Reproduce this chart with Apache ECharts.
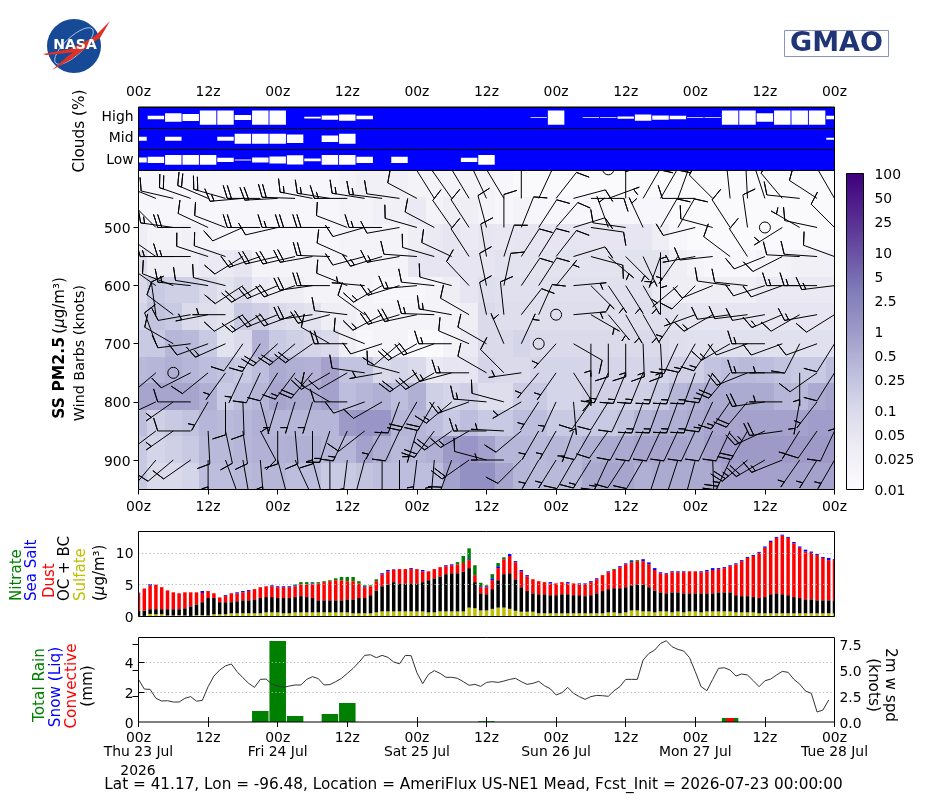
<!DOCTYPE html>
<html>
<head>
<meta charset="utf-8">
<style>html,body{margin:0;padding:0;background:#fff}#chart{width:925px;height:804px}</style>
<script src="https://cdn.jsdelivr.net/npm/echarts@6/dist/echarts.min.js"></script>
</head>
<body>
<div id="chart"></div>
<script>
// Forecast hours are counted from the initialisation time; every column is 3 hours.
const hourTicks = ['00z', '12z'];
const dayLabels = ['Thu 23 Jul', 'Fri 24 Jul', 'Sat 25 Jul', 'Sun 26 Jul', 'Mon 27 Jul', 'Tue 28 Jul'];
const cloudBands = ['Low', 'Mid', 'High'];

// Cloud fraction (%) per 3-hour column
const cloudHigh = [0,25,60,50,100,100,35,100,100,0,12,30,45,25,0,0,0,0,0,0,0,0,0,5,100,0,5,5,15,45,30,25,5,5,100,100,60,100,100,100,25];
const cloudMid  = [30,0,30,0,0,30,70,70,70,60,0,45,70,0,0,0,0,0,0,0,0,0,0,0,0,0,0,0,0,0,0,0,0,0,0,0,0,0,0,0,15];
const cloudLow  = [35,45,70,70,70,30,7,35,50,65,20,70,70,45,0,45,0,0,0,30,70,0,0,0,0,0,0,0,0,0,0,0,0,0,0,0,0,0,0,0,0];

// Pressure levels (hPa) shared by the concentration rows and the wind barbs
const levels = [400,450,500,550,600,650,700,750,800,850,900,950];

// Sea-salt PM2.5 (ug/m3) by level
const pm400 = [.015,.015,.015,.015,.015,.015,.015,.015,.015,.015,.015,.015,.02,.025,.025,.025,.02,.02,.02,.02,.02,.015,.012,.012,.012,.012,.012,.012,.012,.012,.012,.012,.012,.012,.012,.012,.012,.012,.012,.012,.012];
const pm450 = [.015,.015,.015,.015,.015,.015,.015,.015,.015,.015,.015,.015,.02,.02,.025,.025,.04,.02,.03,.03,.02,.015,.02,.015,.015,.015,.015,.015,.015,.015,.015,.012,.012,.012,.012,.012,.012,.012,.012,.012,.012];
const pm500 = [.03,.02,.02,.025,.02,.015,.015,.015,.015,.015,.015,.015,.02,.02,.02,.02,.03,.04,.05,.04,.05,.045,.05,.05,.05,.05,.05,.05,.05,.05,.03,.015,.012,.012,.012,.012,.012,.012,.012,.012,.012];
const pm550 = [.08,.03,.03,.03,.04,.04,.05,.02,.02,.02,.02,.02,.02,.02,.02,.02,.05,.05,.05,.05,.05,.06,.06,.06,.06,.06,.06,.06,.06,.06,.06,.03,.02,.015,.015,.015,.02,.02,.025,.025,.025];
const pm600 = [.1,.2,.15,.15,.1,.06,.1,.04,.03,.03,.02,.02,.02,.02,.015,.015,.015,.02,.03,.05,.08,.07,.07,.07,.07,.07,.07,.07,.07,.07,.04,.03,.03,.03,.03,.03,.04,.04,.04,.04,.04];
const pm650 = [.12,.25,.2,.1,.08,.06,.2,.15,.1,.08,.06,.03,.03,.02,.02,.02,.02,.02,.02,.03,.1,.08,.08,.08,.08,.08,.08,.08,.08,.08,.08,.06,.05,.05,.05,.05,.05,.05,.05,.05,.05];
const pm700 = [.2,.2,.4,.35,.2,.06,.1,.45,.2,.15,.12,.1,.03,.015,.02,.02,.012,.012,.02,.04,.1,.1,.12,.1,.1,.1,.1,.1,.1,.1,.1,.08,.07,.07,.07,.07,.07,.07,.07,.07,.07];
const pm750 = [.35,.4,.5,.4,.3,.25,.2,.3,.6,.5,.45,.8,.25,.25,.1,.12,.1,.04,.05,.05,.12,.1,.1,.12,.12,.12,.12,.12,.12,.12,.12,.15,.15,.25,.3,.35,.3,.25,.2,.2,.3];
const pm800 = [.7,.7,.7,.7,.5,.2,.3,.4,.7,.6,.6,.8,.3,.4,.5,.3,.5,.15,.12,.15,.08,.08,.18,.2,.12,.12,.15,.15,.15,.15,.2,.4,.5,.6,.6,.6,.6,.4,.35,.6,.7];
const pm850 = [.3,.15,.2,.25,.4,.35,.4,.5,.4,.4,.4,.4,1,1.2,1.2,.4,.4,.3,.2,.3,.2,.2,.3,.3,.2,.2,.2,.2,.25,.4,.5,.5,.6,.7,.7,.8,.8,.8,.8,.9,.9];
const pm900 = [.2,.12,.15,.2,.35,.35,.4,.45,.45,.5,.5,.4,.4,.8,.5,.35,.4,.5,1,1.2,.8,.4,.4,.35,.4,.35,.5,.6,.6,.7,.7,.7,.6,.8,.9,1,1,1,1,1,1];
const pm950 = [.2,.1,.1,.12,.3,.3,.35,.4,.4,.3,.3,.2,.2,.25,.3,.3,.3,.3,.8,1.5,1.5,.7,.4,.35,.35,.35,.6,.7,.7,.5,.6,.6,.6,.6,.8,.8,.8,.8,.8,.8,.8];
const pmRows = [pm400,pm450,pm500,pm550,pm600,pm650,pm700,pm750,pm800,pm850,pm900,pm950];

// Wind direction (degrees the wind blows from) by level
const dir400 = [330,330,330,330,330,330,268,330,330,330,330,272,330,330,330,330,330,330,330,330,330,330,330,330,330,330,330,0,330,330,330,330,330,330,330,330,330,330,330,330,330];
const dir450 = [290,292,283,289,293,286,265,270,267,272,281,279,270,279,277,278,298,328,325,329,335,329,0,25,38,75,90,70,0,30,30,20,270,315,354,357,342,320,276,303,330];
const dir500 = [300,315,278,270,295,291,246,270,257,270,270,270,291,254,270,260,286,298,325,327,345,0,22,33,41,73,98,340,278,335,30,30,256,285,327,352,0,238,300,282,315];
const dir550 = [300,305,270,270,288,289,238,251,257,257,260,272,294,255,253,260,274,286,295,327,350,18,33,32,38,73,105,130,135,155,200,215,260,264,307,327,248,243,273,274,290];
const dir600 = [300,305,291,276,279,284,237,240,247,250,262,270,292,275,240,253,265,276,285,317,348,12,34,33,39,85,135,146,148,150,0,230,225,248,278,276,252,250,270,270,263];
const dir650 = [330,352,307,260,259,270,240,238,248,250,262,255,277,306,242,253,258,272,280,300,348,354,38,24,0,85,120,140,150,150,0,215,250,240,262,263,260,247,240,260,238];
const dir700 = [230,340,300,263,250,246,215,213,228,230,235,300,270,292,252,230,240,250,270,293,300,337,25,0,222,120,180,180,180,178,177,205,210,215,240,250,270,250,207,250,212];
const dir750 = [230,230,0,243,231,216,205,205,212,217,220,240,240,278,260,285,235,240,255,270,300,315,262,220,215,147,180,205,202,202,200,200,200,205,220,248,270,270,180,235,212];
const dir800 = [230,245,235,270,210,180,178,165,197,197,197,300,270,250,240,200,210,210,230,250,275,285,240,213,205,175,215,212,205,200,200,200,200,205,215,220,262,270,190,218,180];
const dir850 = [230,233,235,270,177,168,172,152,180,175,180,198,205,232,210,205,197,217,235,240,270,273,230,210,210,200,210,215,208,205,205,205,205,205,205,210,245,262,212,215,205];
const dir900 = [225,220,230,235,180,160,170,175,165,155,165,180,187,195,180,180,187,185,200,235,285,270,225,210,212,210,212,205,213,210,198,198,195,178,205,230,240,248,215,212,210];
const dir950 = [210,210,210,210,200,190,190,190,190,190,190,190,190,195,195,195,195,195,200,210,210,210,210,210,210,210,210,210,210,205,200,200,200,200,205,210,215,215,210,210,210];
const windDirs = [dir400,dir450,dir500,dir550,dir600,dir650,dir700,dir750,dir800,dir850,dir900,dir950];

// Wind speed (knots) by level; 0 draws the calm circle
const spd400 = [10,10,10,10,10,10,10,10,10,10,10,10,10,10,10,10,10,10,10,10,10,10,10,10,10,10,10,0,10,10,10,10,10,10,10,10,10,10,10,10,10];
const spd450 = [15,15,10,20,20,20,15,20,20,20,15,15,15,15,15,10,10,10,10,10,10,10,10,10,10,10,10,5,5,10,10,10,10,10,10,10,10,10,10,10,10];
const spd500 = [10,10,15,20,10,10,10,20,10,15,20,20,10,10,15,10,10,10,10,10,10,10,10,10,10,10,10,5,10,5,10,10,10,10,10,10,0,5,5,10,10];
const spd550 = [10,10,15,15,10,10,10,15,20,20,20,20,10,10,15,15,10,10,10,10,10,10,10,10,10,10,10,5,5,5,5,5,5,10,10,10,10,10,10,10,10];
const spd600 = [10,10,10,15,10,10,10,20,20,20,20,20,10,5,15,15,15,10,10,10,10,10,10,10,5,5,5,5,5,5,5,5,10,10,10,10,10,10,15,15,15];
const spd650 = [10,10,10,10,5,5,10,15,20,20,20,20,10,10,15,20,20,15,15,10,10,10,10,10,0,5,5,5,5,5,5,5,5,15,10,10,10,15,10,15,10];
const spd700 = [10,10,10,10,10,15,10,15,20,20,20,10,20,10,10,10,20,20,15,10,10,5,5,0,5,10,5,10,15,15,15,15,15,15,15,10,15,10,10,10,10];
const spd750 = [10,10,0,10,10,5,5,10,10,15,20,20,10,10,5,10,20,20,15,15,10,10,5,5,5,10,5,15,15,15,15,15,15,15,20,20,15,5,5,10,10];
const spd800 = [10,10,5,10,5,10,10,5,5,5,5,10,10,10,10,10,20,20,15,15,15,10,5,5,5,5,10,10,10,15,15,15,15,15,15,20,20,5,5,5,5];
const spd850 = [10,10,5,10,10,10,10,10,10,10,15,15,15,10,5,10,5,20,20,15,15,5,10,5,5,5,10,10,10,10,10,10,10,10,10,20,25,20,5,10,10];
const spd900 = [10,10,10,10,5,10,10,5,10,10,10,10,15,10,10,10,5,5,20,20,10,5,10,5,5,10,15,15,10,10,10,10,10,10,25,25,20,15,5,5,5];
const spd950 = [10,10,10,10,10,10,10,10,10,10,10,10,10,10,10,10,10,10,20,20,10,10,10,10,10,10,10,10,10,10,10,10,10,10,20,20,20,10,10,10,10];
const windSpeeds = [spd400,spd450,spd500,spd550,spd600,spd650,spd700,spd750,spd800,spd850,spd900,spd950];

// Hourly aerosol column: sulfate, then running totals as the species stack up
const sulfate = [
  .1,.1,.4,.35,.35,.15,.15,.2,.15,.1, .2,.2,.15,.35,.35,.35,.5,.5,.5,.5,
  .5,.5,.65,.65,.65,.5,.5,.65,.65,.65, .65,.65,.65,.65,.65,.65,.65,.5,.5,.5,
  .5,.65,.8,.8,.8,.8,.8,.8,.8,.8, .65,.65,.8,.8,.8,.8,.8,1.4,1.3,.95,
  .95,1.2,1.4,1.4,1.2,.9,.75,.75,.75,.5, .5,.5,.5,.5,.5,.5,.5,.5,.5,.5,
  .5,.65,.65,.5,.65,.95,.95,.8,.8,.65, .8,.8,.65,.8,.65,.8,.8,.65,.8,.8,
  .8,.8,.8,.65,.65,.65,.65,.5,.5,.5, .5,.5,.5,.5,.5,.5,.5,.5,.5,.5,.5];
const carbonTop = [
  .95,.95,1.15,1.15,1.15,1.15,1.15,1.15,1.3,1.6, 1.9,2.25,2.9,2.9,2.25,2.25,2.25,2.4,2.55,2.55,
  2.7,2.9,3.05,3.05,2.9,2.9,2.9,3.05,3.2,3.05, 2.9,2.55,2.55,2.55,2.55,2.55,2.7,2.7,2.9,2.9,
  3.35,4.1,4.75,5.05,5.4,5.2,5.2,5.2,5.2,5.4, 5.7,6,6.3,6.65,6.8,6.8,7,7.6,5.4,3.65,
  3.5,4.3,5.7,6.65,6.8,5.85,4.6,4,3.65,3.5, 3.5,3.35,3.35,3.5,3.5,3.35,3.35,3.2,3.35,3.65,
  4,4.3,4.45,4.45,4.6,4.9,5.05,5.05,4.6,4.1, 3.8,3.65,3.8,3.8,3.65,3.65,3.65,3.65,3.65,3.65,
  3.8,3.8,3.8,3.35,3.2,3.2,3.05,2.9,3.05,3.5, 3.65,3.5,3.35,3.05,2.9,2.7,2.7,2.55,2.55,2.55,2.55];
const dustTop = [
  3.6,4.4,4.9,5,4.6,4.1,3.8,3.65,3.8,3.8, 3.8,3.7,4,3.65,3,3.2,3.65,3.65,3.8,4,
  4.3,4.6,4.75,4.75,4.6,4.6,4.6,4.75,5.05,5.05, 5.05,5.2,5.4,5.55,5.7,5.7,5.55,5.55,5.2,4.6,
  4.75,5.55,6.6,7.1,7.3,7.45,7.45,7.45,7.45,7.1, 7.1,7.45,7.75,7.9,8.05,8.2,8.4,8.85,6.5,4.6,
  4.6,5.7,7.6,9,9.5,8.5,7.1,6.3,5.85,5.55, 5.4,5.2,5.2,5.4,5.2,5.2,5.05,5.05,5.4,5.85,
  6.5,6.95,7.3,7.75,8.2,8.5,8.7,8.7,8.2,7.3, 6.8,6.65,6.95,6.95,6.95,7.1,7.1,6.95,7.1,7.3,
  7.45,7.6,7.9,8.2,8.7,9.2,9.5,10,10.8,11.7, 12.35,12.7,12.35,11.5,10.8,10.2,10,9.65,9.2,8.85,8.85];
const saltTop = [
  3.75,4.4,5.1,5,4.6,4.1,3.8,3.65,3.8,3.8, 3.8,4,4,3.65,3,3.35,3.65,3.8,4,4.15,
  4.3,4.6,4.75,4.9,4.75,4.75,4.75,4.9,5.05,5.05, 5.2,5.2,5.4,5.55,5.7,5.7,5.55,5.55,5.2,4.75,
  4.75,5.55,6.8,7.3,7.4,7.45,7.45,7.6,7.45,7.3, 7.1,7.45,7.75,8.05,8.2,8.2,8.4,9,6.5,4.75,
  4.75,6,7.9,9,9.8,8.7,7.3,6.5,5.85,5.55, 5.4,5.4,5.2,5.4,5.4,5.2,5.2,5.2,5.55,6,
  6.5,7.1,7.3,7.9,8.35,8.7,8.7,9,8.5,7.6, 6.95,6.8,7.1,7.1,7.1,7.1,7.1,7.1,7.3,7.6,
  7.6,7.75,8.05,8.35,8.85,9.35,9.65,10.15,11,11.9, 12.5,12.85,12.5,11.7,11,10.5,10.2,9.8,9.35,9.2,9];
const nitrateTop = [
  3.75,4.4,5.1,5,4.6,4.1,3.8,3.65,3.8,3.8, 3.8,4,4,3.65,3,3.35,3.65,3.8,4,4.15,
  4.3,4.6,4.75,4.9,4.75,4.75,4.75,5.05,5.4,5.4, 5.4,5.4,5.55,5.7,6,6.2,6.2,6.2,5.55,4.9,
  4.9,5.85,6.8,7.3,7.4,7.45,7.45,7.6,7.45,7.3, 7.1,7.45,7.75,8.05,8.2,8.55,9.5,10.7,8.05,5.3,
  4.9,6.65,8.4,9.3,9.8,8.7,7.3,6.5,5.85,5.55, 5.4,5.4,5.2,5.4,5.4,5.2,5.2,5.2,5.55,6,
  6.5,7.1,7.45,7.9,8.35,8.85,8.85,9,8.5,7.6, 6.95,6.8,7.1,7.1,7.1,7.1,7.1,7.1,7.3,7.6,
  7.6,7.75,8.05,8.35,8.85,9.35,9.65,10.15,11,11.9, 12.5,12.85,12.5,11.7,11,10.5,10.2,9.8,9.35,9.2,9];

// Precipitation (mm per 3 hours) at the forecast hours where any fell
const rainHours = [21,24,27,33,36,60,102];
const rainTotal = [.73,5.4,.4,.53,1.27,.05,.27];
const rainConvective = [0,0,0,0,0,0,.27];

// Hourly 2 m wind speed (knots)
const wind2m = [
  4.1,3.17,3.14,2.28,2.02,2.05,1.92,1.92,2.28,2.44, 2,2.08,3.4,4.42,5,5.4,5.58,4.84,4.26,3.72,
  3.33,4.1,4.13,3.65,3.46,3.33,3.46,3.56,3.56,4.1, 4.36,4.17,3.56,3.6,3.88,4.2,4.68,5.16,5.74,6.41,
  6.47,6.19,6.41,6.22,5.77,5.6,6.41,6.38,4.74,3.69, 4.58,4.94,4.68,4.3,4.3,4.2,3.88,3.53,3.62,3.43,
  3.81,3.88,3.81,3.94,4.1,4.2,3.88,3.62,3.72,3.91, 3.49,3.2,2.6,2.82,3.33,2.76,2.44,2.18,2.44,2.56,
  2.53,2.47,3.01,3.4,4.1,4.1,4.1,5.96,6.6,6.92, 7.56,7.82,7.24,6.99,6.83,6.19,4.84,3.4,3.01,4.1,
  5.16,5.22,5,4.42,4.62,4.52,3.97,3.4,3.97,4.13, 4.52,4.87,4.78,4.1,3.65,2.98,2.76,.96,1.15,2.12];

const colorTicks = [0.01,0.025,0.05,0.1,0.25,0.5,1,2.5,5,10,25,50,100];
const purples = ['#fcfbfd','#efedf5','#dadaeb','#bcbddc','#9e9ac8','#807dba','#6a51a3','#54278f','#3f007d'];

const FONT = '"DejaVu Sans"';
const FS = 13.9;
const FS_LABEL = 15.28;
const X0 = 138.5, PANEL_W = 696;
const HOURS = 120;

function logFraction(v) { return (Math.log10(v) + 2) / 4; }
function pmColor(v) { return echarts.color.lerp(Math.max(0, Math.min(1, logFraction(v))), purples); }

function hourLabel(v) { return hourTicks[(v % 24) / 12]; }
function hourLabelWithDay(v) { return v % 24 === 0 ? hourTicks[0] + '\n' + dayLabels[v / 24] : hourTicks[1]; }

function timeAxis(gridIndex, extra) {
  return Object.assign({
    type: 'value', gridIndex, min: 0, max: HOURS, interval: 12,
    axisLine: { show: false }, axisTick: { show: false }, splitLine: { show: false },
    axisLabel: { show: false }
  }, extra);
}

// Flatten per-column arrays into [hour, row, value] records
const cloudData = [];
[cloudLow, cloudMid, cloudHigh].forEach((row, b) => row.forEach((v, k) => { if (v > 0) cloudData.push([k * 3, b, v]); }));
const pmData = [];
pmRows.forEach((row, r) => row.forEach((v, k) => pmData.push([k * 3, r, v])));
const barbData = [];
windDirs.forEach((row, r) => row.forEach((d, k) => barbData.push([k * 3, levels[r], d, windSpeeds[r][k]])));

function renderCloud(params, api) {
  const t = api.value(0), band = api.value(1), pct = api.value(2);
  const c = api.coord([t, band]);
  const h = api.size([0, 1])[1] * (2 / 3) * pct / 100;
  const a = api.coord([t - 1.42, band]), b = api.coord([t + 1.42, band]);
  return { type: 'rect', shape: { x: a[0], y: c[1] - h / 2, width: b[0] - a[0], height: h }, style: { fill: '#fff' } };
}

function renderCell(params, api) {
  const t = api.value(0), r = api.value(1);
  const c = api.coord([t - 1.5, r]), e = api.coord([t + 1.5, r]);
  const h = api.size([0, 1])[1];
  const x = Math.round(c[0]), xe = Math.round(e[0]);
  const y = Math.round(c[1] - h / 2), ye = Math.round(c[1] + h / 2);
  return { type: 'rect', shape: { x, y, width: xe - x, height: ye - y }, style: { fill: pmColor(api.value(2)) } };
}

// Wind barb: shaft runs from the grid point toward where the wind comes from,
// with full (10 kt) and half (5 kt) feathers at the far end.
const BARB_L = 33, BARB_H = 13, BARB_W = 8.2, BARB_S = 4.1;
function renderBarb(params, api) {
  const p = api.coord([api.value(0), api.value(1)]);
  const az = api.value(2) * Math.PI / 180, spd = api.value(3);
  const style = { fill: 'none', stroke: '#000', lineWidth: 1 };
  if (spd < 2.5) return { type: 'circle', shape: { cx: p[0], cy: p[1], r: 5.5 }, style };
  const dx = Math.sin(az), dy = -Math.cos(az), nx = Math.cos(az), ny = Math.sin(az);
  const along = (o, s) => [p[0] + dx * o + nx * s, p[1] + dy * o + ny * s];
  const pts = [p];
  let off = BARB_L;
  const full = Math.floor(spd / 10), half = (spd % 10) >= 5;
  for (let i = 0; i < full; i++) {
    pts.push(along(off, 0), along(off + BARB_W / 2, BARB_H), along(off, 0));
    off -= BARB_S;
  }
  if (half) {
    if (full === 0) { pts.push(along(off, 0)); off -= 1.5 * BARB_S; }
    pts.push(along(off, 0), along(off + BARB_W / 4, BARB_H / 2), along(off, 0));
  }
  return { type: 'polyline', shape: { points: pts }, style };
}

function renderColorbar(params, api) {
  const a = api.coord([0, api.value(0)]), b = api.coord([1, api.value(1)]);
  return {
    type: 'rect',
    shape: { x: a[0], y: b[1], width: b[0] - a[0], height: a[1] - b[1] },
    style: { fill: new echarts.graphic.LinearGradient(0, 1, 0, 0, purples.map((color, i) => ({ offset: i / (purples.length - 1), color }))) }
  };
}

function renderRain(widthHours, color) {
  return function (params, api) {
    const t = api.value(0), v = api.value(1);
    if (!(v > 0)) return null;
    const a = api.coord([t - widthHours / 2, v]), b = api.coord([t + widthHours / 2, 0]);
    return { type: 'rect', shape: { x: a[0], y: a[1], width: b[0] - a[0], height: b[1] - a[1] }, style: { fill: color } };
  };
}

function stackBars(name, values, color) {
  return {
    type: 'bar', name, xAxisIndex: 3, yAxisIndex: 4, stack: 'aerosol', barWidth: 3.5, clip: true,
    itemStyle: { color }, data: values, z: 2
  };
}

function vText(x, y, text, fill, opts) {
  return Object.assign({
    type: 'text', x, y, rotation: Math.PI / 2, z: 50,
    style: { text, fill, font: FS_LABEL + 'px ' + FONT, align: 'center', verticalAlign: 'middle' }
  }, opts || {});
}
function vLabel(x, y, text, fill, align, size) {
  const t = vText(x, y, text, fill);
  t.style.align = align || 'center';
  if (size) t.style.font = size + 'px ' + FONT;
  return t;
}
function frame(x, y, w, h) {
  return { type: 'rect', z: 60, silent: true, shape: { x, y, width: w, height: h }, style: { fill: 'none', stroke: '#000', lineWidth: 1 } };
}
// The end bars straddle the axis limits, so the panel margins are masked outside the frame
function margin(x, y, w, h) {
  return { type: 'rect', z: 55, silent: true, shape: { x, y, width: w, height: h }, style: { fill: '#fff' } };
}

const unitRich = {
  i: { fontStyle: 'italic', fontFamily: FONT, fontSize: 15, fill: '#000' },
  t: { fontFamily: FONT, fontSize: 15, fill: '#000' },
  b: { fontWeight: 'bold', fontFamily: FONT, fontSize: 15.6, fill: '#000' }
};

const chart = echarts.init(document.getElementById('chart'), null, { renderer: 'canvas' });
const baseLabel = { fontFamily: FONT, fontSize: FS, color: '#000' };
// Vertical-axis labels sit a touch below their tick, set through a padded rich token
const yLabelRich = { a: { fontFamily: FONT, fontSize: FS, color: '#000', padding: [4, 0, 0, 0] } };
function yLabelFmt(fn) { return v => '{a|' + (fn ? fn(v) : v) + '}'; }
const blackLine = { color: '#000', width: 1 };
const dotted = { show: true, lineStyle: { color: '#b5b5b5', type: [1.2, 2.5], width: 1 } };
const hourIndex = sulfate.map((v, t) => t);

chart.setOption({
  animation: false,
  backgroundColor: '#fff',
  grid: [
    { left: X0, top: 107, width: PANEL_W, height: 63.5, show: true, backgroundColor: '#0000ff', borderWidth: 0 },
    { left: X0, top: 170.5, width: PANEL_W, height: 319, show: false },
    { left: 846.5, top: 173.5, width: 17, height: 316, show: false },
    { left: X0, top: 531.5, width: PANEL_W, height: 85, show: false },
    { left: X0, top: 637.5, width: PANEL_W, height: 84.5, show: false }
  ],
  xAxis: [
    timeAxis(0, { position: 'top', axisLabel: Object.assign({ show: true, margin: 8, formatter: hourLabel }, baseLabel) }),
    timeAxis(1, { position: 'bottom', axisTick: { show: true, length: 5, lineStyle: blackLine }, axisLabel: Object.assign({ show: true, margin: 11, formatter: hourLabel }, baseLabel) }),
    { type: 'value', gridIndex: 2, min: 0, max: 1, show: false },
    { type: 'category', gridIndex: 3, data: hourIndex, boundaryGap: false, axisLine: { show: false }, axisTick: { show: false }, axisLabel: { show: false }, splitLine: { show: false } },
    timeAxis(4, { axisTick: { show: true, inside: true, length: 5, lineStyle: blackLine },
      axisLabel: Object.assign({ show: true, margin: 9, lineHeight: 14, formatter: hourLabelWithDay }, baseLabel) }),
    timeAxis(4, { position: 'top', axisTick: { show: true, inside: true, length: 5, lineStyle: blackLine } })
  ],
  yAxis: [
    { type: 'category', gridIndex: 0, data: cloudBands, axisLine: { show: false }, axisTick: { show: false },
      splitLine: { show: true, interval: 0, lineStyle: blackLine },
      axisLabel: Object.assign({ margin: 5 }, baseLabel) },
    { type: 'value', gridIndex: 1, min: 402, max: 950.7, inverse: true, splitLine: { show: false }, axisLine: { show: false },
      axisTick: { show: true, length: 5, lineStyle: blackLine, customValues: [500,600,700,800,900] },
      axisLabel: { margin: 8, customValues: [500,600,700,800,900], formatter: yLabelFmt(), rich: yLabelRich } },
    { type: 'category', gridIndex: 1, data: levels, inverse: true, show: false },
    { type: 'log', gridIndex: 2, position: 'right', logBase: 10, min: 0.01, max: 100, splitLine: { show: false },
      axisLine: { show: false }, axisTick: { show: true, length: 3.5, lineStyle: blackLine, customValues: colorTicks },
      axisLabel: { margin: 11, customValues: colorTicks, formatter: yLabelFmt(v => String(+(+v).toPrecision(3))), rich: yLabelRich } },
    { type: 'value', gridIndex: 3, min: 0, max: 13.35, interval: 5, z: 5, axisLine: { show: false }, axisTick: { show: false },
      splitLine: dotted, axisLabel: { margin: 5, customValues: [0,5,10], formatter: yLabelFmt(), rich: yLabelRich } },
    { type: 'value', gridIndex: 4, min: 0, max: 5.63, interval: 2, z: 5, axisLine: { show: false },
      axisTick: { show: true, inside: true, length: 6, lineStyle: blackLine, customValues: [2,4] },
      splitLine: dotted, axisLabel: { margin: 5, customValues: [0,2,4], formatter: yLabelFmt(), rich: yLabelRich } },
    { type: 'value', gridIndex: 4, position: 'right', min: 0, max: 8.13, interval: 2.5, axisLine: { show: false }, splitLine: { show: false },
      axisTick: { show: true, inside: true, length: 6, lineStyle: blackLine, customValues: [2.5,5,7.5] },
      axisLabel: { margin: 5, customValues: [0,2.5,5,7.5], formatter: yLabelFmt(v => (+v).toFixed(1)), rich: yLabelRich } }
  ],
  series: [
    { type: 'custom', xAxisIndex: 0, yAxisIndex: 0, data: cloudData, renderItem: renderCloud, clip: true, z: 3, silent: true },
    { type: 'custom', xAxisIndex: 1, yAxisIndex: 2, data: pmData, renderItem: renderCell, clip: true, z: 2, silent: true },
    { type: 'custom', xAxisIndex: 1, yAxisIndex: 1, data: barbData, renderItem: renderBarb, clip: true, z: 4, silent: true },
    { type: 'custom', xAxisIndex: 2, yAxisIndex: 3, data: [[colorTicks[0], colorTicks[colorTicks.length - 1]]],
      encode: { y: [0, 1] }, renderItem: renderColorbar, silent: true },
    stackBars('Sulfate', sulfate, '#bfbf00'),
    stackBars('OC + BC', carbonTop.map((v, i) => v - sulfate[i]), '#000000'),
    stackBars('Dust', dustTop.map((v, i) => v - carbonTop[i]), '#ff0000'),
    stackBars('Sea Salt', saltTop.map((v, i) => v - dustTop[i]), '#0000ff'),
    stackBars('Nitrate', nitrateTop.map((v, i) => v - saltTop[i]), '#008000'),
    { type: 'custom', name: 'Total Rain', xAxisIndex: 4, yAxisIndex: 5, data: rainHours.map((t, i) => [t, rainTotal[i]]),
      renderItem: renderRain(2.85, '#008000'), clip: true, z: 2, silent: true },
    { type: 'custom', name: 'Convective', xAxisIndex: 4, yAxisIndex: 5, data: rainHours.map((t, i) => [t, rainConvective[i]]),
      renderItem: renderRain(1.25, '#ff0000'), clip: true, z: 3, silent: true },
    { type: 'line', name: '2m w spd', xAxisIndex: 4, yAxisIndex: 6, data: wind2m.map((v, t) => [t, v]), showSymbol: false,
      lineStyle: { color: '#333', width: 1 }, z: 6, silent: true }
  ],
  graphic: { elements: [
    margin(X0 - 3, 531.5, 3, 85),
    margin(X0 + PANEL_W, 531.5, 4, 85),
    frame(X0, 107, PANEL_W, 63.5),
    frame(X0, 170.5, PANEL_W, 319),
    frame(846.5, 173.5, 17, 316),
    frame(X0, 531.5, PANEL_W, 85),
    frame(X0, 637.5, PANEL_W, 84.5),

    vText(80, 131, 'Clouds (%)', '#000'),
    { type: 'text', x: 60, y: 348, rotation: Math.PI / 2, z: 50,
      style: { text: '{b|SS PM2.5} {t|(}{i|\u00b5}{t|g/m\u00b3)}', rich: unitRich, align: 'center', verticalAlign: 'middle' } },
    vLabel(80, 353, 'Wind Barbs (knots)', '#000', 'center', 14.3),

    vLabel(17, 601, 'Nitrate', '#008000', 'left', 15),
    vLabel(32, 601, 'Sea Salt', '#0000ff', 'left', 15),
    vLabel(50, 598, 'Dust', '#ff0000', 'left', 15),
    vLabel(65, 601, 'OC + BC', '#000', 'left', 15),
    vLabel(81, 601, 'Sulfate', '#bfbf00', 'left', 15),
    { type: 'text', x: 100, y: 601, rotation: Math.PI / 2, z: 50,
      style: { text: '{t|(}{i|\u00b5}{t|g/m\u00b3)}', rich: unitRich, align: 'left', verticalAlign: 'middle' } },

    vLabel(40, 685, 'Total Rain', '#008000'),
    vLabel(56, 687, 'Snow (Liq)', '#0000ff'),
    vLabel(72, 686, 'Convective', '#ff0000'),
    vLabel(88, 686, '(mm)', '#000'),
    vText(873, 685, '(knots)', '#000', { rotation: -Math.PI / 2 }),
    vText(890, 685, '2m w spd', '#000', { rotation: -Math.PI / 2 }),

    { type: 'text', x: 138, y: 771, z: 50, style: { text: '2026', fill: '#000', font: FS + 'px ' + FONT, align: 'center', verticalAlign: 'middle' } },
    { type: 'text', x: 473.5, y: 785, z: 50, style: { text: 'Lat = 41.17, Lon = -96.48, Location = AmeriFlux US-NE1 Mead, Fcst_Init = 2026-07-23 00:00:00', fill: '#000', font: FS_LABEL + 'px ' + FONT, align: 'center', verticalAlign: 'middle' } },

    // Agency marks in the page header
    { type: 'circle', z: 40, shape: { cx: 74, cy: 46, r: 27 }, style: { fill: '#164a97' } },
    { type: 'ellipse', z: 41, x: 74, y: 46, originX: 0, originY: 0, rotation: 0.75, shape: { cx: 0, cy: 0, rx: 25, ry: 9 }, style: { fill: 'none', stroke: '#c8d4ea', lineWidth: 0.8 } },
    { type: 'polygon', z: 42, shape: { points: [[43,54],[70,49],[94,37],[110,21],[100,38],[78,52],[46,55]] }, style: { fill: '#e03127' } },
    { type: 'polygon', z: 42, shape: { points: [[52,70],[68,56],[84,45],[96,35],[86,48],[70,60]] }, style: { fill: '#e03127' } },
    { type: 'text', x: 75, y: 45.5, z: 43, style: { text: 'NASA', fill: '#fff', font: 'bold 14px ' + FONT, align: 'center', verticalAlign: 'middle' } },
    { type: 'rect', z: 40, shape: { x: 784.5, y: 30.5, width: 104, height: 26 }, style: { fill: '#fff', stroke: '#8b93b8', lineWidth: 1 } },
    { type: 'text', x: 836.5, y: 43.5, z: 41, style: { text: 'GMAO', fill: '#1f3575', font: 'bold 27px ' + FONT, align: 'center', verticalAlign: 'middle' } }
  ] }
});
</script>
</body>
</html>
